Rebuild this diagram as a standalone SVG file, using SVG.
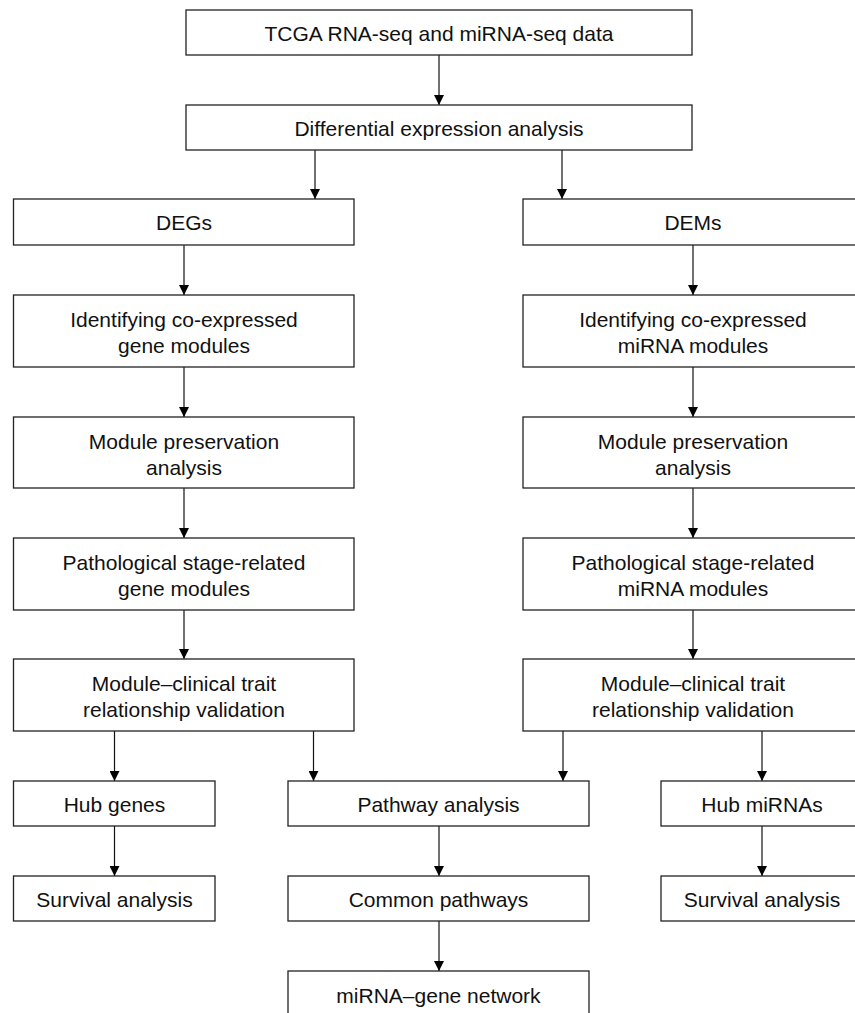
<svg xmlns="http://www.w3.org/2000/svg" width="855" height="1013" viewBox="0 0 855 1013">
<defs>
<marker id="ah" viewBox="0 0 10 10" refX="10" refY="5" markerWidth="10" markerHeight="10" markerUnits="userSpaceOnUse" orient="auto">
<path d="M0,0 L10,5 L0,10 Z" fill="#000"/>
</marker>
<style>
rect{fill:#fff;stroke:#222;stroke-width:1.3}
text{font-family:"Liberation Sans",Arial,sans-serif;font-size:21px;fill:#111;text-anchor:middle;dominant-baseline:central}
.c line{stroke:#111;stroke-width:1.2;marker-end:url(#ah)}
</style>
</defs>
<rect x="0" y="0" width="855" height="1013" style="fill:#fff;stroke:none"/>
<g class="c" id="connectors">
<line x1="439" y1="55" x2="439" y2="105"/>
<line x1="315" y1="150" x2="315" y2="199"/>
<line x1="562" y1="150" x2="562" y2="199"/>
<line x1="184" y1="245" x2="184" y2="295"/>
<line x1="693" y1="245" x2="693" y2="295"/>
<line x1="184" y1="367" x2="184" y2="417"/>
<line x1="693" y1="367" x2="693" y2="417"/>
<line x1="184" y1="488" x2="184" y2="538"/>
<line x1="693" y1="488" x2="693" y2="538"/>
<line x1="184" y1="610" x2="184" y2="659"/>
<line x1="693" y1="610" x2="693" y2="659"/>
<line x1="114.5" y1="731" x2="114.5" y2="781"/>
<line x1="313.5" y1="731" x2="313.5" y2="781"/>
<line x1="563" y1="731" x2="563" y2="781"/>
<line x1="762" y1="731" x2="762" y2="781"/>
<line x1="114.5" y1="826" x2="114.5" y2="876"/>
<line x1="439" y1="826" x2="439" y2="876"/>
<line x1="762" y1="826" x2="762" y2="876"/>
<line x1="439" y1="921" x2="439" y2="971"/>
</g>
<g id="tcga"><rect x="186" y="10" width="506" height="45"/><text x="439" y="33.5">TCGA RNA-seq and miRNA-seq data</text></g>
<g id="diff"><rect x="186" y="105" width="506" height="45"/><text x="439" y="128.5">Differential expression analysis</text></g>
<g id="degs"><rect x="13.5" y="199" width="340.5" height="46"/><text x="184" y="222.5">DEGs</text></g>
<g id="dems"><rect x="523" y="199" width="345" height="46"/><text x="693" y="222.5">DEMs</text></g>
<g id="gene-modules"><rect x="13.5" y="295" width="340.5" height="72"/><text x="184" y="319">Identifying co-expressed</text><text x="184" y="345">gene modules</text></g>
<g id="mirna-modules"><rect x="523" y="295" width="345" height="72"/><text x="693" y="319">Identifying co-expressed</text><text x="693" y="345">miRNA modules</text></g>
<g id="gene-preservation"><rect x="13.5" y="417" width="340.5" height="71"/><text x="184" y="441">Module preservation</text><text x="184" y="467">analysis</text></g>
<g id="mirna-preservation"><rect x="523" y="417" width="345" height="71"/><text x="693" y="441">Module preservation</text><text x="693" y="467">analysis</text></g>
<g id="gene-stage"><rect x="13.5" y="538" width="340.5" height="72"/><text x="184" y="562">Pathological stage-related</text><text x="184" y="588">gene modules</text></g>
<g id="mirna-stage"><rect x="523" y="538" width="345" height="72"/><text x="693" y="562">Pathological stage-related</text><text x="693" y="588">miRNA modules</text></g>
<g id="gene-validation"><rect x="13.5" y="659" width="340.5" height="72"/><text x="184" y="683">Module–clinical trait</text><text x="184" y="709">relationship validation</text></g>
<g id="mirna-validation"><rect x="523" y="659" width="345" height="72"/><text x="693" y="683">Module–clinical trait</text><text x="693" y="709">relationship validation</text></g>
<g id="hub-genes"><rect x="13.5" y="781" width="201.5" height="45"/><text x="114.5" y="804">Hub genes</text></g>
<g id="pathway"><rect x="288" y="781" width="301" height="45"/><text x="438.5" y="804">Pathway analysis</text></g>
<g id="hub-mirnas"><rect x="661" y="781" width="205" height="45"/><text x="762" y="804">Hub miRNAs</text></g>
<g id="survival-genes"><rect x="13.5" y="876" width="201.5" height="45"/><text x="114.5" y="899">Survival analysis</text></g>
<g id="common"><rect x="288" y="876" width="301" height="45"/><text x="438.5" y="899">Common pathways</text></g>
<g id="survival-mirnas"><rect x="661" y="876" width="205" height="45"/><text x="762" y="899">Survival analysis</text></g>
<g id="network"><rect x="288" y="971" width="301" height="50"/><text x="438.5" y="995">miRNA–gene network</text></g>
</svg>
